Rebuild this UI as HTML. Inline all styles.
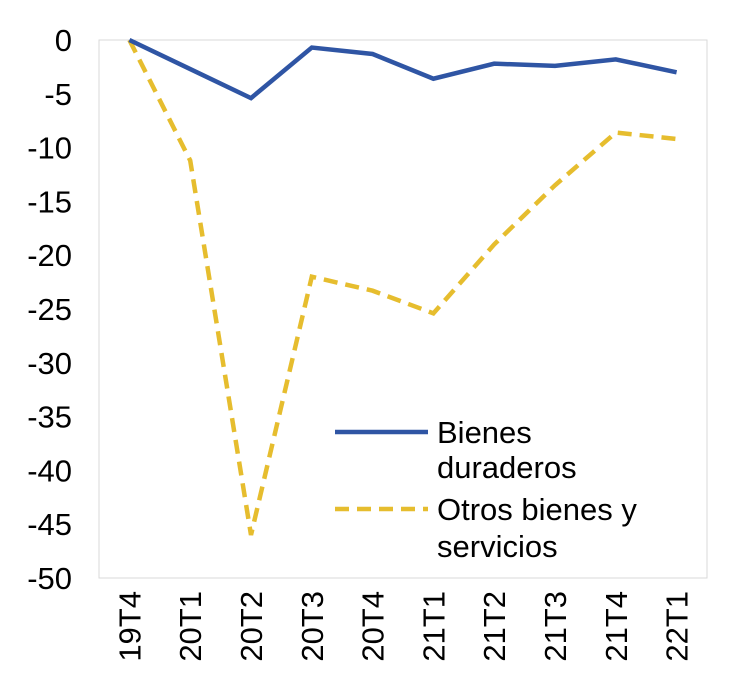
<!DOCTYPE html>
<html><head><meta charset="utf-8"><style>
body{margin:0;background:#fff;}
svg{display:block;font-family:"Liberation Sans",Arial,sans-serif;}
</style></head><body>
<svg id="chart" width="754" height="686">
<rect x="99" y="40" width="608" height="538" fill="none" stroke="#d9d9d9" stroke-width="1"/>
<g id="yaxis"></g>
<g id="xaxis"></g>
<g id="series"></g>
<g>
<line x1="335" y1="432" x2="428" y2="432" stroke="#2f55a4" stroke-width="4.5"/>
<text x="437" y="443" font-size="31">Bienes</text>
<text x="437" y="478" font-size="31">duraderos</text>
<line x1="335" y1="509" x2="428" y2="509" stroke="#e6bd2e" stroke-width="4.5" stroke-dasharray="14,8"/>
<text x="437" y="520" font-size="31">Otros bienes y</text>
<text x="437" y="557" font-size="31">servicios</text>
</g>
</svg>
<script>
const categories=["19T4","20T1","20T2","20T3","20T4","21T1","21T2","21T3","21T4","22T1"];
const durables=[0,-2.7,-5.4,-0.7,-1.3,-3.6,-2.2,-2.4,-1.8,-3.0];
const others=[0,-11.2,-46,-22,-23.3,-25.4,-19,-13.5,-8.6,-9.2];
const yTicks=[0,-5,-10,-15,-20,-25,-30,-35,-40,-45,-50];
const NS="http://www.w3.org/2000/svg";
const L=99,R=707,T=40,B=578;
function xs(i){return L+(R-L)/categories.length*(i+0.5);}
function ys(v){return T+(0-v)/50*(B-T);}
const ya=document.getElementById('yaxis');
yTicks.forEach(v=>{const t=document.createElementNS(NS,'text');


t.setAttribute('x',72);t.setAttribute('y',ys(v)+11);t.setAttribute('text-anchor','end');t.setAttribute('font-size','31');t.textContent=v;ya.appendChild(t);});
const xa=document.getElementById('xaxis');
categories.forEach((c,i)=>{const t=document.createElementNS(NS,'text');


const x=xs(i)+11,y=591;t.setAttribute('x',x);t.setAttribute('y',y);t.setAttribute('text-anchor','end');t.setAttribute('font-size','31');t.setAttribute('transform','rotate(-90 '+x+' '+y+')');t.textContent=c;xa.appendChild(t);});
const sg=document.getElementById('series');
function line(data,color,dash,name){const p=document.createElementNS(NS,'polyline');


p.setAttribute('points',data.map((v,i)=>xs(i)+','+ys(v)).join(' '));p.setAttribute('fill','none');p.setAttribute('stroke',color);p.setAttribute('stroke-width','4.5');if(dash)p.setAttribute('stroke-dasharray',dash);sg.appendChild(p);}
line(others,'#e6bd2e','14,8','line-other-goods-services');
line(durables,'#2f55a4',null,'line-durable-goods');
</script>
</body></html>
